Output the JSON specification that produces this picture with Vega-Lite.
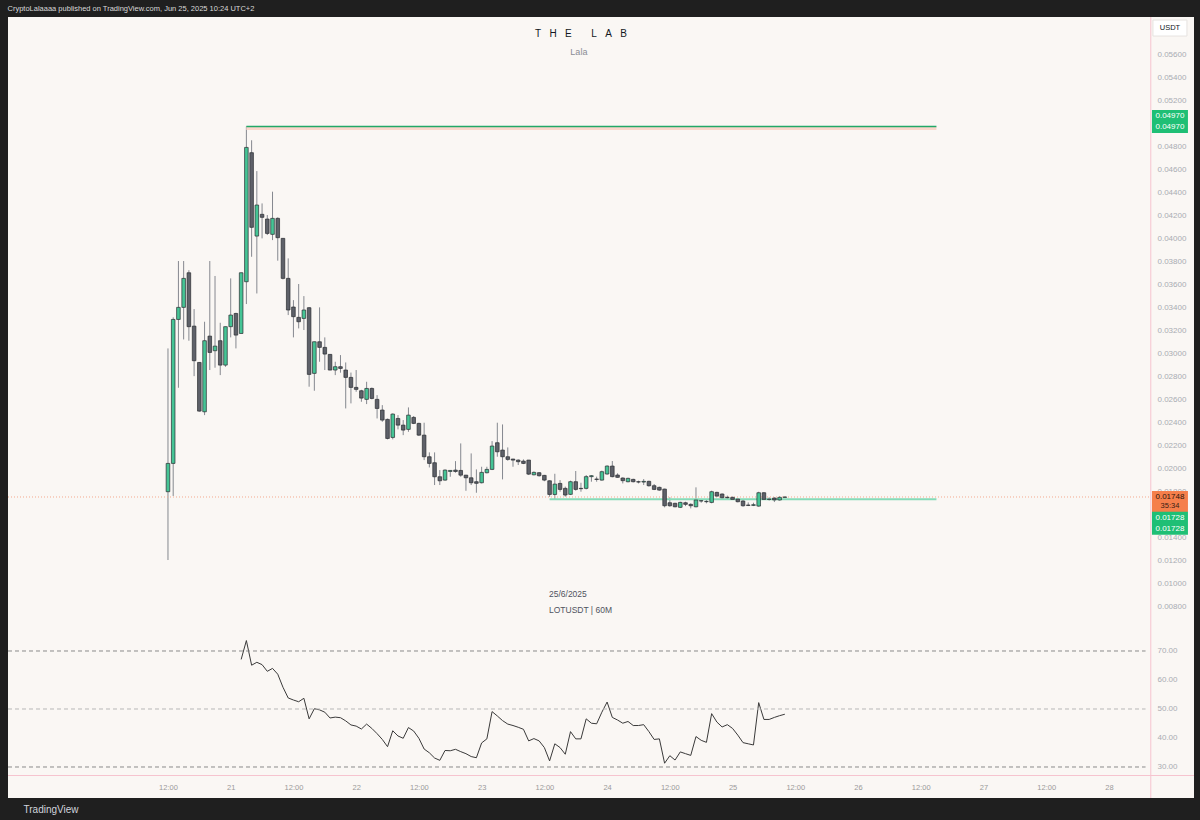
{
"$schema": "https://vega.github.io/schema/vega-lite/v6.json",
"background": "#1f1f1f",
"padding": {"left": 7, "right": 7, "top": 5, "bottom": 30},
"bounds": "flush",
"title": {"text": "CryptoLalaaaa published on TradingView.com, Jun 25, 2025 10:24 UTC+2", "anchor": "start", "fontSize": 7.5, "fontWeight": "normal", "color": "#d9d9d9", "offset": 4, "font": "Liberation Sans"},
"spacing": 0,
"datasets": {
"bars": [
{"t":"2025-06-20T12:00","o":0.01794,"h":0.0304,"l":0.012,"c":0.0204},
{"t":"2025-06-20T13:00","o":0.0204,"h":0.0331,"l":0.01757,"c":0.03292},
{"t":"2025-06-20T14:00","o":0.03292,"h":0.038,"l":0.02698,"c":0.03397},
{"t":"2025-06-20T15:00","o":0.03397,"h":0.038,"l":0.03118,"c":0.03649},
{"t":"2025-06-20T16:00","o":0.03698,"h":0.0372,"l":0.03107,"c":0.03229},
{"t":"2025-06-20T17:00","o":0.03234,"h":0.03382,"l":0.02799,"c":0.02933},
{"t":"2025-06-20T18:00","o":0.02918,"h":0.0292,"l":0.0249,"c":0.02495},
{"t":"2025-06-20T19:00","o":0.02489,"h":0.03272,"l":0.0246,"c":0.03107},
{"t":"2025-06-20T20:00","o":0.03147,"h":0.038,"l":0.02852,"c":0.03005},
{"t":"2025-06-20T21:00","o":0.0302,"h":0.0367,"l":0.02872,"c":0.0306},
{"t":"2025-06-20T22:00","o":0.03107,"h":0.03263,"l":0.02808,"c":0.02895},
{"t":"2025-06-20T23:00","o":0.02895,"h":0.0323,"l":0.0288,"c":0.03229},
{"t":"2025-06-21T00:00","o":0.03229,"h":0.03649,"l":0.03136,"c":0.0333},
{"t":"2025-06-21T01:00","o":0.03344,"h":0.0335,"l":0.0304,"c":0.03156},
{"t":"2025-06-21T02:00","o":0.0317,"h":0.037,"l":0.0317,"c":0.03698,"r":67.1},
{"t":"2025-06-21T03:00","o":0.0362,"h":0.0497,"l":0.03426,"c":0.04788,"r":73.6},
{"t":"2025-06-21T04:00","o":0.04742,"h":0.0485,"l":0.03837,"c":0.04093,"r":65.1},
{"t":"2025-06-21T05:00","o":0.04017,"h":0.04582,"l":0.03518,"c":0.04287,"r":66.1},
{"t":"2025-06-21T06:00","o":0.04206,"h":0.04301,"l":0.03997,"c":0.0418,"r":65.3},
{"t":"2025-06-21T07:00","o":0.04165,"h":0.042,"l":0.04026,"c":0.0404,"r":63.0},
{"t":"2025-06-21T08:00","o":0.04032,"h":0.04403,"l":0.03982,"c":0.04171,"r":64.0},
{"t":"2025-06-21T09:00","o":0.04171,"h":0.0418,"l":0.03803,"c":0.04003,"r":62.0},
{"t":"2025-06-21T10:00","o":0.03997,"h":0.04,"l":0.0364,"c":0.03649,"r":57.5},
{"t":"2025-06-21T11:00","o":0.03649,"h":0.03823,"l":0.0333,"c":0.03374,"r":53.8},
{"t":"2025-06-21T12:00","o":0.034,"h":0.0346,"l":0.03136,"c":0.03316,"r":53.1},
{"t":"2025-06-21T13:00","o":0.0331,"h":0.036,"l":0.03214,"c":0.03272,"r":52.5},
{"t":"2025-06-21T14:00","o":0.03301,"h":0.03495,"l":0.032,"c":0.03374,"r":53.7},
{"t":"2025-06-21T15:00","o":0.03394,"h":0.034,"l":0.02707,"c":0.02814,"r":46.6},
{"t":"2025-06-21T16:00","o":0.02823,"h":0.031,"l":0.02672,"c":0.03098,"r":50.1},
{"t":"2025-06-21T17:00","o":0.03098,"h":0.03397,"l":0.02924,"c":0.03049,"r":49.7},
{"t":"2025-06-21T18:00","o":0.03049,"h":0.03136,"l":0.02852,"c":0.02991,"r":48.9},
{"t":"2025-06-21T19:00","o":0.02988,"h":0.0299,"l":0.0285,"c":0.02852,"r":46.9},
{"t":"2025-06-21T20:00","o":0.02852,"h":0.02924,"l":0.02808,"c":0.02881,"r":47.2},
{"t":"2025-06-21T21:00","o":0.02881,"h":0.02982,"l":0.02829,"c":0.02866,"r":47.0},
{"t":"2025-06-21T22:00","o":0.02852,"h":0.02918,"l":0.02518,"c":0.02788,"r":45.9},
{"t":"2025-06-21T23:00","o":0.02788,"h":0.0283,"l":0.02562,"c":0.02701,"r":44.5},
{"t":"2025-06-22T00:00","o":0.02701,"h":0.02852,"l":0.02663,"c":0.02684,"r":44.1},
{"t":"2025-06-22T01:00","o":0.02672,"h":0.0268,"l":0.02576,"c":0.02608,"r":43.1},
{"t":"2025-06-22T02:00","o":0.02597,"h":0.0275,"l":0.02556,"c":0.02692,"r":44.8},
{"t":"2025-06-22T03:00","o":0.02692,"h":0.027,"l":0.02597,"c":0.02605,"r":43.3},
{"t":"2025-06-22T04:00","o":0.02597,"h":0.02634,"l":0.02431,"c":0.02518,"r":41.5},
{"t":"2025-06-22T05:00","o":0.02504,"h":0.02547,"l":0.02402,"c":0.02417,"r":39.5},
{"t":"2025-06-22T06:00","o":0.02423,"h":0.0243,"l":0.02249,"c":0.02257,"r":37.0},
{"t":"2025-06-22T07:00","o":0.02266,"h":0.02475,"l":0.02249,"c":0.02469,"r":42.5},
{"t":"2025-06-22T08:00","o":0.02431,"h":0.0246,"l":0.02336,"c":0.02373,"r":40.7},
{"t":"2025-06-22T09:00","o":0.02373,"h":0.02417,"l":0.02286,"c":0.0233,"r":39.9},
{"t":"2025-06-22T10:00","o":0.02336,"h":0.02527,"l":0.02315,"c":0.0246,"r":43.6},
{"t":"2025-06-22T11:00","o":0.0244,"h":0.02452,"l":0.02382,"c":0.02388,"r":42.4},
{"t":"2025-06-22T12:00","o":0.02388,"h":0.02394,"l":0.02278,"c":0.02286,"r":39.9},
{"t":"2025-06-22T13:00","o":0.02286,"h":0.02394,"l":0.02069,"c":0.02098,"r":36.2},
{"t":"2025-06-22T14:00","o":0.02098,"h":0.02136,"l":0.02005,"c":0.0204,"r":34.9},
{"t":"2025-06-22T15:00","o":0.02046,"h":0.02136,"l":0.01852,"c":0.01924,"r":33.1},
{"t":"2025-06-22T16:00","o":0.01924,"h":0.01982,"l":0.01852,"c":0.01889,"r":32.3},
{"t":"2025-06-22T17:00","o":0.01895,"h":0.01988,"l":0.01889,"c":0.01982,"r":35.7},
{"t":"2025-06-22T18:00","o":0.0197,"h":0.01982,"l":0.01924,"c":0.01979,"r":35.6},
{"t":"2025-06-22T19:00","o":0.01982,"h":0.0206,"l":0.01959,"c":0.0197,"r":36.1},
{"t":"2025-06-22T20:00","o":0.01979,"h":0.02214,"l":0.01924,"c":0.01938,"r":35.3},
{"t":"2025-06-22T21:00","o":0.01938,"h":0.0194,"l":0.01802,"c":0.01915,"r":34.6},
{"t":"2025-06-22T22:00","o":0.01915,"h":0.02127,"l":0.01852,"c":0.01872,"r":33.6},
{"t":"2025-06-22T23:00","o":0.01881,"h":0.01988,"l":0.01785,"c":0.01867,"r":33.2},
{"t":"2025-06-23T00:00","o":0.01872,"h":0.02011,"l":0.01866,"c":0.01962,"r":38.3},
{"t":"2025-06-23T01:00","o":0.01959,"h":0.02011,"l":0.01953,"c":0.01988,"r":39.7},
{"t":"2025-06-23T02:00","o":0.01988,"h":0.02234,"l":0.01982,"c":0.02191,"r":49.1},
{"t":"2025-06-23T03:00","o":0.0222,"h":0.02394,"l":0.02098,"c":0.02141,"r":47.6},
{"t":"2025-06-23T04:00","o":0.02156,"h":0.02379,"l":0.01901,"c":0.02098,"r":46.0},
{"t":"2025-06-23T05:00","o":0.02098,"h":0.02179,"l":0.02063,"c":0.02075,"r":44.8},
{"t":"2025-06-23T06:00","o":0.02078,"h":0.0208,"l":0.02011,"c":0.02069,"r":44.3},
{"t":"2025-06-23T07:00","o":0.02069,"h":0.02075,"l":0.02026,"c":0.02055,"r":43.7},
{"t":"2025-06-23T08:00","o":0.0206,"h":0.02075,"l":0.02034,"c":0.0204,"r":43.0},
{"t":"2025-06-23T09:00","o":0.02069,"h":0.0207,"l":0.01939,"c":0.01947,"r":39.0},
{"t":"2025-06-23T10:00","o":0.01941,"h":0.0197,"l":0.01936,"c":0.01962,"r":39.8},
{"t":"2025-06-23T11:00","o":0.01959,"h":0.01965,"l":0.01925,"c":0.01933,"r":39.0},
{"t":"2025-06-23T12:00","o":0.01936,"h":0.0194,"l":0.01885,"c":0.01895,"r":36.7},
{"t":"2025-06-23T13:00","o":0.01889,"h":0.01893,"l":0.0175,"c":0.0177,"r":32.1},
{"t":"2025-06-23T14:00","o":0.0177,"h":0.0195,"l":0.0173,"c":0.0186,"r":38.0},
{"t":"2025-06-23T15:00","o":0.01866,"h":0.01895,"l":0.01794,"c":0.01814,"r":36.7},
{"t":"2025-06-23T16:00","o":0.01823,"h":0.01838,"l":0.01751,"c":0.01765,"r":34.4},
{"t":"2025-06-23T17:00","o":0.01771,"h":0.0189,"l":0.01765,"c":0.01881,"r":42.2},
{"t":"2025-06-23T18:00","o":0.01881,"h":0.01974,"l":0.01803,"c":0.01814,"r":39.7},
{"t":"2025-06-23T19:00","o":0.01823,"h":0.01872,"l":0.01794,"c":0.0182,"r":39.7},
{"t":"2025-06-23T20:00","o":0.01823,"h":0.01939,"l":0.01814,"c":0.01925,"r":46.6},
{"t":"2025-06-23T21:00","o":0.01925,"h":0.01939,"l":0.01881,"c":0.01933,"r":45.1},
{"t":"2025-06-23T22:00","o":0.01904,"h":0.01925,"l":0.01881,"c":0.01901,"r":44.9},
{"t":"2025-06-23T23:00","o":0.01895,"h":0.01977,"l":0.0189,"c":0.01968,"r":48.9},
{"t":"2025-06-24T00:00","o":0.01948,"h":0.02023,"l":0.01942,"c":0.02017,"r":52.4},
{"t":"2025-06-24T01:00","o":0.02017,"h":0.02061,"l":0.01919,"c":0.01925,"r":47.1},
{"t":"2025-06-24T02:00","o":0.01939,"h":0.01954,"l":0.01916,"c":0.01919,"r":46.2},
{"t":"2025-06-24T03:00","o":0.01913,"h":0.01919,"l":0.01866,"c":0.0189,"r":45.1},
{"t":"2025-06-24T04:00","o":0.01881,"h":0.01916,"l":0.01875,"c":0.0191,"r":45.7},
{"t":"2025-06-24T05:00","o":0.01901,"h":0.01907,"l":0.01875,"c":0.01881,"r":44.3},
{"t":"2025-06-24T06:00","o":0.01881,"h":0.0189,"l":0.01866,"c":0.01878,"r":44.3},
{"t":"2025-06-24T07:00","o":0.01878,"h":0.01904,"l":0.01852,"c":0.01884,"r":44.6},
{"t":"2025-06-24T08:00","o":0.01884,"h":0.0189,"l":0.01838,"c":0.01846,"r":42.2},
{"t":"2025-06-24T09:00","o":0.01846,"h":0.01861,"l":0.01808,"c":0.01814,"r":39.5},
{"t":"2025-06-24T10:00","o":0.01832,"h":0.01838,"l":0.01803,"c":0.01808,"r":39.7},
{"t":"2025-06-24T11:00","o":0.01817,"h":0.0182,"l":0.01658,"c":0.01672,"r":31.3},
{"t":"2025-06-24T12:00","o":0.01698,"h":0.01745,"l":0.01663,"c":0.01672,"r":33.9},
{"t":"2025-06-24T13:00","o":0.01693,"h":0.01698,"l":0.01658,"c":0.01663,"r":32.4},
{"t":"2025-06-24T14:00","o":0.01658,"h":0.01707,"l":0.01652,"c":0.01701,"r":35.2},
{"t":"2025-06-24T15:00","o":0.01698,"h":0.01707,"l":0.01669,"c":0.01684,"r":34.6},
{"t":"2025-06-24T16:00","o":0.01684,"h":0.01693,"l":0.01649,"c":0.01672,"r":34.0},
{"t":"2025-06-24T17:00","o":0.01663,"h":0.01832,"l":0.01658,"c":0.01722,"r":40.5},
{"t":"2025-06-24T18:00","o":0.01713,"h":0.01727,"l":0.01698,"c":0.01716,"r":39.2},
{"t":"2025-06-24T19:00","o":0.01707,"h":0.01722,"l":0.01693,"c":0.0171,"r":38.5},
{"t":"2025-06-24T20:00","o":0.01701,"h":0.01803,"l":0.01693,"c":0.01794,"r":48.4},
{"t":"2025-06-24T21:00","o":0.01788,"h":0.01794,"l":0.01751,"c":0.01756,"r":45.5},
{"t":"2025-06-24T22:00","o":0.01774,"h":0.01779,"l":0.01733,"c":0.01742,"r":43.8},
{"t":"2025-06-24T23:00","o":0.01745,"h":0.0176,"l":0.01727,"c":0.01742,"r":44.6},
{"t":"2025-06-25T00:00","o":0.01745,"h":0.01751,"l":0.01722,"c":0.01727,"r":43.3},
{"t":"2025-06-25T01:00","o":0.0173,"h":0.01736,"l":0.01701,"c":0.01707,"r":41.0},
{"t":"2025-06-25T02:00","o":0.01713,"h":0.01722,"l":0.01663,"c":0.01672,"r":38.4},
{"t":"2025-06-25T03:00","o":0.01678,"h":0.01701,"l":0.01669,"c":0.01675,"r":38.0},
{"t":"2025-06-25T04:00","o":0.01675,"h":0.01698,"l":0.01669,"c":0.01681,"r":37.6},
{"t":"2025-06-25T05:00","o":0.01669,"h":0.01794,"l":0.01663,"c":0.01785,"r":52.2},
{"t":"2025-06-25T06:00","o":0.01785,"h":0.01791,"l":0.01722,"c":0.01727,"r":46.4},
{"t":"2025-06-25T07:00","o":0.01727,"h":0.01745,"l":0.01716,"c":0.0173,"r":46.4},
{"t":"2025-06-25T08:00","o":0.01739,"h":0.01745,"l":0.01704,"c":0.01722,"r":47.1},
{"t":"2025-06-25T09:00","o":0.01722,"h":0.01756,"l":0.01716,"c":0.01745,"r":47.7},
{"t":"2025-06-25T10:00","o":0.01745,"h":0.01751,"l":0.01742,"c":0.01748,"r":48.2}
]
},
"vconcat": [
{
"width": 1186, "height": 605,
"layer": [
{"data": {"name": "bars"}, "mark": {"type": "rule", "color": "#85888f", "strokeWidth": 1},
 "encoding": {
  "x": {"field": "t", "type": "temporal", "scale": {"domain": [{"year":2025,"month":6,"date":19,"hours":5,"minutes":24},{"year":2025,"month":6,"date":28,"hours":16,"minutes":16}], "padding": 0}, "axis": null},
  "y": {"field": "l", "type": "quantitative", "scale": {"domain": [0.00661, 0.05922], "nice": false, "zero": false, "padding": 0},
        "axis": {"orient": "right", "title": null, "tickCount": 40, "values": [0.008,0.01,0.012,0.014,0.018,0.02,0.022,0.024,0.026,0.028,0.03,0.032,0.034,0.036,0.038,0.04,0.042,0.044,0.046,0.048,0.052,0.054,0.056], "format": ".5f", "labelPadding": -37, "labelAlign": "left", "labelColor": "#a9acb3", "labelFontSize": 8, "labelOverlap": false, "labelFlush": false, "labelBound": false, "grid": false, "ticks": false, "domain": false}},
  "y2": {"field": "h"}}},
{"data": {"values": [{}]}, "mark": {"type": "rule", "color": "#f4a98f", "strokeDash": [1, 2], "strokeWidth": 1},
 "encoding": {
  "x": {"datum": {"year":2025,"month":6,"date":19,"hours":5,"minutes":24}, "type": "temporal", "axis": null},
  "x2": {"datum": {"year":2025,"month":6,"date":28,"hours":8}},
  "y": {"datum": 0.01748, "type": "quantitative"}}},
{"data": {"values": [{}]}, "mark": {"type": "rule", "color": "#f6c4cf", "strokeWidth": 1},
 "encoding": {"x": {"datum": {"year":2025,"month":6,"date":28,"hours":8}, "type": "temporal", "axis": null}}},
{"data": {"values": [{}]}, "mark": {"type": "rule", "color": "#fbd6cb", "strokeWidth": 3, "yOffset": 2},
 "encoding": {
  "x": {"datum": {"year":2025,"month":6,"date":21,"hours":3}, "type": "temporal", "axis": null},
  "x2": {"datum": {"year":2025,"month":6,"date":26,"hours":15}},
  "y": {"datum": 0.0497, "type": "quantitative"}}},
{"data": {"values": [{}]}, "mark": {"type": "rule", "color": "#22a867", "strokeWidth": 1.6},
 "encoding": {
  "x": {"datum": {"year":2025,"month":6,"date":21,"hours":3}, "type": "temporal", "axis": null},
  "x2": {"datum": {"year":2025,"month":6,"date":26,"hours":15}},
  "y": {"datum": 0.0497, "type": "quantitative"}}},
{"data": {"values": [{}]}, "mark": {"type": "rule", "color": "#86dbb8", "strokeWidth": 2},
 "encoding": {
  "x": {"datum": {"year":2025,"month":6,"date":23,"hours":13}, "type": "temporal", "axis": null},
  "x2": {"datum": {"year":2025,"month":6,"date":26,"hours":15}},
  "y": {"datum": 0.01728, "type": "quantitative"}}},
{"data": {"name": "bars"}, "mark": {"type": "bar", "width": 3.6, "stroke": "#2a2c31", "strokeWidth": 0.7},
 "encoding": {
  "x": {"field": "t", "type": "temporal", "axis": null},
  "y": {"field": "o", "type": "quantitative", "title": null},
  "y2": {"field": "c"},
  "fill": {"condition": {"test": "datum.c >= datum.o", "value": "#45c495"}, "value": "#5e6169"}}},
{"data": {"values": [{}]}, "mark": {"type": "text", "text": "T\u00a0\u00a0\u00a0H\u00a0\u00a0\u00a0E\u00a0\u00a0\u00a0\u00a0\u00a0\u00a0\u00a0L\u00a0\u00a0\u00a0A\u00a0\u00a0\u00a0B", "fontSize": 10, "color": "#131722", "align": "center", "baseline": "middle"},
 "encoding": {"x": {"datum": {"year":2025,"month":6,"date":23,"hours":19}, "type": "temporal", "axis": null}, "y": {"datum": 0.05774, "type": "quantitative"}}},
{"data": {"values": [{}]}, "mark": {"type": "text", "text": "Lala", "fontSize": 9, "color": "#8a8d94", "align": "center", "baseline": "middle"},
 "encoding": {"x": {"datum": {"year":2025,"month":6,"date":23,"hours":18,"minutes":36}, "type": "temporal", "axis": null}, "y": {"datum": 0.05617, "type": "quantitative"}}},
{"data": {"values": [{}]}, "mark": {"type": "text", "text": "25/6/2025", "fontSize": 8.5, "color": "#50535e", "align": "left", "baseline": "middle"},
 "encoding": {"x": {"datum": {"year":2025,"month":6,"date":23,"hours":12,"minutes":53}, "type": "temporal", "axis": null}, "y": {"datum": 0.00904, "type": "quantitative"}}},
{"data": {"values": [{}]}, "mark": {"type": "text", "text": "LOTUSDT  |  60M", "fontSize": 8.5, "color": "#50535e", "align": "left", "baseline": "middle"},
 "encoding": {"x": {"datum": {"year":2025,"month":6,"date":23,"hours":12,"minutes":53}, "type": "temporal", "axis": null}, "y": {"datum": 0.007652, "type": "quantitative"}}},
{"data": {"values": [{}]}, "mark": {"type": "tick", "orient": "horizontal", "size": 34, "thickness": 16, "color": "#ffffff", "opacity": 1, "stroke": "#e6e3e0", "strokeWidth": 1},
 "encoding": {"x": {"datum": {"year":2025,"month":6,"date":28,"hours":11,"minutes":40}, "type": "temporal", "axis": null}, "y": {"datum": 0.05826, "type": "quantitative"}}},
{"data": {"values": [{}]}, "mark": {"type": "text", "text": "USDT", "fontSize": 7.5, "color": "#131722", "align": "center", "baseline": "middle"},
 "encoding": {"x": {"datum": {"year":2025,"month":6,"date":28,"hours":11,"minutes":40}, "type": "temporal", "axis": null}, "y": {"datum": 0.05826, "type": "quantitative"}}},
{"data": {"values": [{}]}, "mark": {"type": "tick", "orient": "horizontal", "size": 36, "thickness": 23, "color": "#1fbf75", "opacity": 1, "yOffset": -5},
 "encoding": {"x": {"datum": {"year":2025,"month":6,"date":28,"hours":11,"minutes":40}, "type": "temporal", "axis": null}, "y": {"datum": 0.0497, "type": "quantitative"}}},
{"data": {"values": [{}]}, "mark": {"type": "text", "text": "0.04970", "fontSize": 8, "color": "#ffffff", "align": "center", "baseline": "middle", "yOffset": -10.5},
 "encoding": {"x": {"datum": {"year":2025,"month":6,"date":28,"hours":11,"minutes":40}, "type": "temporal", "axis": null}, "y": {"datum": 0.0497, "type": "quantitative"}}},
{"data": {"values": [{}]}, "mark": {"type": "text", "text": "0.04970", "fontSize": 8, "color": "#ffffff", "align": "center", "baseline": "middle", "yOffset": 0.5},
 "encoding": {"x": {"datum": {"year":2025,"month":6,"date":28,"hours":11,"minutes":40}, "type": "temporal", "axis": null}, "y": {"datum": 0.0497, "type": "quantitative"}}},
{"data": {"values": [{}]}, "mark": {"type": "tick", "orient": "horizontal", "size": 36, "thickness": 21, "color": "#f57f4b", "opacity": 1, "yOffset": 4.5},
 "encoding": {"x": {"datum": {"year":2025,"month":6,"date":28,"hours":11,"minutes":40}, "type": "temporal", "axis": null}, "y": {"datum": 0.01748, "type": "quantitative"}}},
{"data": {"values": [{}]}, "mark": {"type": "text", "text": "0.01748", "fontSize": 8, "color": "#2a160c", "align": "center", "baseline": "middle", "yOffset": 0},
 "encoding": {"x": {"datum": {"year":2025,"month":6,"date":28,"hours":11,"minutes":40}, "type": "temporal", "axis": null}, "y": {"datum": 0.01748, "type": "quantitative"}}},
{"data": {"values": [{}]}, "mark": {"type": "text", "text": "35:34", "fontSize": 7.5, "color": "#3a2014", "align": "center", "baseline": "middle", "yOffset": 9.5},
 "encoding": {"x": {"datum": {"year":2025,"month":6,"date":28,"hours":11,"minutes":40}, "type": "temporal", "axis": null}, "y": {"datum": 0.01748, "type": "quantitative"}}},
{"data": {"values": [{}]}, "mark": {"type": "tick", "orient": "horizontal", "size": 36, "thickness": 23, "color": "#1fbf75", "opacity": 1, "yOffset": 24},
 "encoding": {"x": {"datum": {"year":2025,"month":6,"date":28,"hours":11,"minutes":40}, "type": "temporal", "axis": null}, "y": {"datum": 0.01728, "type": "quantitative"}}},
{"data": {"values": [{}]}, "mark": {"type": "text", "text": "0.01728", "fontSize": 8, "color": "#ffffff", "align": "center", "baseline": "middle", "yOffset": 18.5},
 "encoding": {"x": {"datum": {"year":2025,"month":6,"date":28,"hours":11,"minutes":40}, "type": "temporal", "axis": null}, "y": {"datum": 0.01728, "type": "quantitative"}}},
{"data": {"values": [{}]}, "mark": {"type": "text", "text": "0.01728", "fontSize": 8, "color": "#ffffff", "align": "center", "baseline": "middle", "yOffset": 29.5},
 "encoding": {"x": {"datum": {"year":2025,"month":6,"date":28,"hours":11,"minutes":40}, "type": "temporal", "axis": null}, "y": {"datum": 0.01728, "type": "quantitative"}}}
]
},
{
"width": 1186, "height": 176,
"layer": [
{"data": {"name": "bars"}, "transform": [{"filter": "isValid(datum.r)"}],
 "mark": {"type": "line", "color": "#3a3a3a", "strokeWidth": 1},
 "encoding": {
  "x": {"field": "t", "type": "temporal", "scale": {"domain": [{"year":2025,"month":6,"date":19,"hours":5,"minutes":24},{"year":2025,"month":6,"date":28,"hours":16,"minutes":16}], "padding": 0},
        "axis": {"orient": "bottom", "tickCount": 40, "values": [{"year":2025,"month":6,"date":20,"hours":12},{"year":2025,"month":6,"date":21,"hours":0},{"year":2025,"month":6,"date":21,"hours":12},{"year":2025,"month":6,"date":22,"hours":0},{"year":2025,"month":6,"date":22,"hours":12},{"year":2025,"month":6,"date":23,"hours":0},{"year":2025,"month":6,"date":23,"hours":12},{"year":2025,"month":6,"date":24,"hours":0},{"year":2025,"month":6,"date":24,"hours":12},{"year":2025,"month":6,"date":25,"hours":0},{"year":2025,"month":6,"date":25,"hours":12},{"year":2025,"month":6,"date":26,"hours":0},{"year":2025,"month":6,"date":26,"hours":12},{"year":2025,"month":6,"date":27,"hours":0},{"year":2025,"month":6,"date":27,"hours":12},{"year":2025,"month":6,"date":28,"hours":0}],
                 "labelExpr": "hours(datum.value) == 0 ? '' + date(datum.value) : timeFormat(datum.value, '%H:%M')",
                 "labelPadding": -15, "labelColor": "#9a9a9a", "labelFontSize": 7.5, "labelOverlap": false, "labelFlush": false, "labelBound": false,
                 "grid": false, "ticks": false, "domain": false,
                 "title": "TradingView", "titleAnchor": "start", "titleAlign": "left", "titleX": 15, "titleY": 11, "titleBaseline": "middle", "titleColor": "#d1d4dc", "titleFontSize": 10, "titleFontWeight": "normal"}},
  "y": {"field": "r", "type": "quantitative", "scale": {"domain": [19.31, 80], "nice": false, "zero": false, "padding": 0},
        "axis": {"orient": "right", "title": null, "tickCount": 20, "values": [30, 40, 50, 60, 70], "format": ".2f", "labelPadding": -37, "labelAlign": "left", "labelColor": "#a9acb3", "labelFontSize": 8, "labelOverlap": false, "labelFlush": false, "labelBound": false, "grid": false, "ticks": false, "domain": false}}}},
{"data": {"values": [{}]}, "mark": {"type": "rule", "color": "#8a8a8a", "strokeDash": [4, 3], "strokeWidth": 1},
 "encoding": {
  "x": {"datum": {"year":2025,"month":6,"date":19,"hours":5,"minutes":24}, "type": "temporal"},
  "x2": {"datum": {"year":2025,"month":6,"date":28,"hours":7}},
  "y": {"datum": 70, "type": "quantitative"}}},
{"data": {"values": [{}]}, "mark": {"type": "rule", "color": "#b8b8b8", "strokeDash": [4, 3], "strokeWidth": 1},
 "encoding": {
  "x": {"datum": {"year":2025,"month":6,"date":19,"hours":5,"minutes":24}, "type": "temporal"},
  "x2": {"datum": {"year":2025,"month":6,"date":28,"hours":7}},
  "y": {"datum": 50, "type": "quantitative"}}},
{"data": {"values": [{}]}, "mark": {"type": "rule", "color": "#8a8a8a", "strokeDash": [4, 3], "strokeWidth": 1},
 "encoding": {
  "x": {"datum": {"year":2025,"month":6,"date":19,"hours":5,"minutes":24}, "type": "temporal"},
  "x2": {"datum": {"year":2025,"month":6,"date":28,"hours":7}},
  "y": {"datum": 30, "type": "quantitative"}}},
{"data": {"values": [{}]}, "mark": {"type": "rule", "color": "#f6c4cf", "strokeWidth": 1},
 "encoding": {"x": {"datum": {"year":2025,"month":6,"date":28,"hours":8}, "type": "temporal"}}},
{"data": {"values": [{}]}, "mark": {"type": "rule", "color": "#f6c4cf", "strokeWidth": 1},
 "encoding": {"y": {"datum": 27.07, "type": "quantitative"}}}
]
}
],
"config": {"view": {"stroke": null, "fill": "#faf7f4"}, "font": "Liberation Sans", "axis": {"labelFont": "Liberation Sans", "titleFont": "Liberation Sans", "labelOverlap": false}}
}
